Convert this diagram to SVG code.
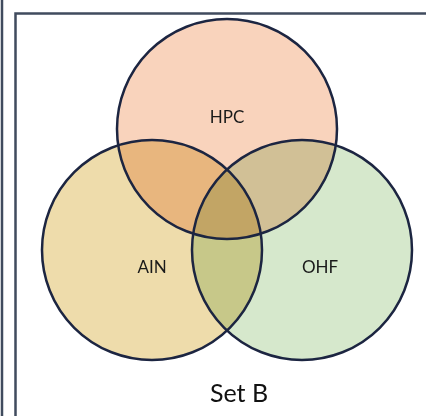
<svg xmlns="http://www.w3.org/2000/svg" width="426" height="416" viewBox="0 0 426 416">
  <style>
    .frame { fill: none; stroke: #404B5E; stroke-width: 2.5; }
    .fill { mix-blend-mode: multiply; stroke: none; }
    .ring { fill: none; stroke: #1C2541; stroke-width: 2.5; }
    .lbl { font-family: Lato, "Open Sans", "Liberation Sans", sans-serif; font-size: 17px; fill: #1a1a1a; text-anchor: middle; }
    .title { font-family: Lato, "Open Sans", "Liberation Sans", sans-serif; font-size: 25px; fill: #111111; text-anchor: middle; }
  </style>
  <rect width="426" height="416" fill="#ffffff"/>
  <!-- panel frame -->
  <g id="frame">
    <line class="frame" x1="2" y1="0" x2="2" y2="416"/>
    <polyline class="frame" points="15.5,416 15.5,13.5 426,13.5"/>
  </g>
  <!-- set fills, multiplied so overlaps darken -->
  <g id="fills">
    <circle class="fill" cx="152" cy="250" r="110" fill="#EEDCAB"/>
    <circle class="fill" cx="302" cy="250" r="110" fill="#D6E8CC"/>
    <circle class="fill" cx="227" cy="129" r="110" fill="#F9D3BC"/>
  </g>
  <g id="HPC">
    <circle class="ring" cx="227" cy="129" r="110"/>
    <text class="lbl" x="227" y="123">HPC</text>
  </g>
  <g id="AIN">
    <circle class="ring" cx="152" cy="250" r="110"/>
    <text class="lbl" x="152" y="273">AIN</text>
  </g>
  <g id="OHF">
    <circle class="ring" cx="302" cy="250" r="110"/>
    <text class="lbl" x="320" y="273">OHF</text>
  </g>
  <g id="connectors"/>
  <text class="title" x="239" y="402">Set B</text>
</svg>
